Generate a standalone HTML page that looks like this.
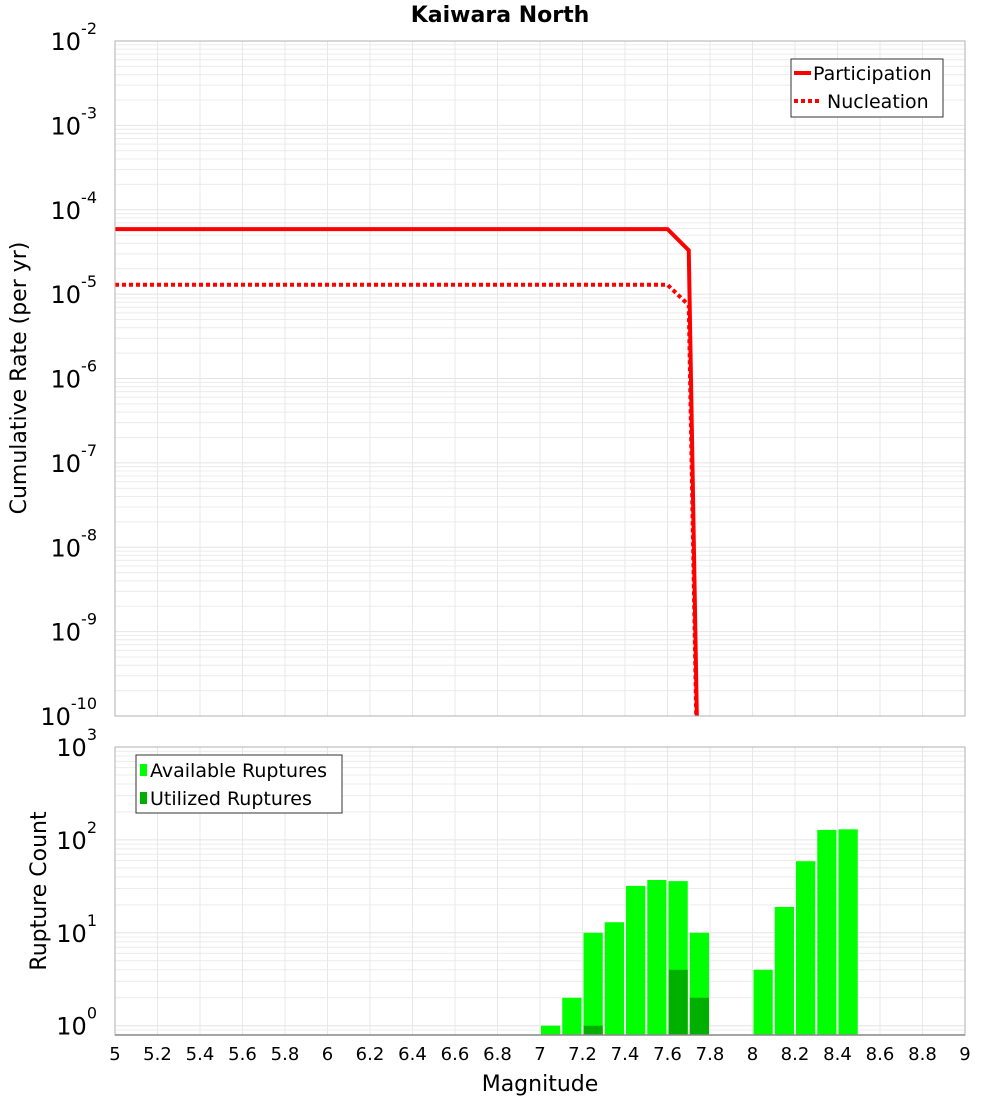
<!DOCTYPE html>
<html><head><meta charset="utf-8"><style>
html,body{margin:0;padding:0;background:#fff;}
svg{display:block;font-family:"DejaVu Sans","Liberation Sans",sans-serif;}
</style></head><body>
<svg id="chart" width="1000" height="1100" viewBox="0 0 1000 1100" xmlns="http://www.w3.org/2000/svg">
<text x="500" y="22" text-anchor="middle" font-size="22" font-weight="bold">Kaiwara North</text>
<g id="topPanel"></g><g id="botPanel"></g>
<text x="540" y="1091" text-anchor="middle" font-size="22">Magnitude</text>
<text transform="translate(26,378) rotate(-90)" text-anchor="middle" font-size="22">Cumulative Rate (per yr)</text>
<text transform="translate(46,891) rotate(-90)" text-anchor="middle" font-size="22">Rupture Count</text>
</svg>
<script>
const partMag=[5,7.6,7.7,7.8];
const partRate=[5.9e-5,5.9e-5,3.3e-5,1e-19];
const nuclMag=[5,7.6,7.7,7.8];
const nuclRate=[1.29e-5,1.29e-5,7.4e-6,1e-19];
const binStart=[7.0,7.1,7.2,7.3,7.4,7.5,7.6,7.7,8.0,8.1,8.2,8.3,8.4];
const available=[1,2,10,13,32,37,36,10,4,19,59,128,130];
const utilBin=[7.2,7.6,7.7];
const utilized=[1,4,2];
const xTicks=[5,5.2,5.4,5.6,5.8,6,6.2,6.4,6.6,6.8,7,7.2,7.4,7.6,7.8,8,8.2,8.4,8.6,8.8,9];
const xTickLabels=["5","5.2","5.4","5.6","5.8","6","6.2","6.4","6.6","6.8","7","7.2","7.4","7.6","7.8","8","8.2","8.4","8.6","8.8","9"];
const topExp=[-2,-3,-4,-5,-6,-7,-8,-9,-10];
const botExp=[3,2,1,0];

const NS="http://www.w3.org/2000/svg";
const L=115,R=965;
const X=m=>L+(m-5)/4*(R-L);
const T0=41,T1=716;
const Yt=v=>T0+(-2-Math.log10(v))/8*(T1-T0);
const B0=747,B1=1035,bMin=-0.1,bMax=3;
const Yb=v=>B0+(bMax-Math.log10(v))/(bMax-bMin)*(B1-B0);
function mk(tag,attrs,parent){const e=document.createElementNS(NS,tag);for(const k in attrs)e.setAttribute(k,attrs[k]);parent.appendChild(e);return e;}
const gTop=document.getElementById('topPanel'),gBot=document.getElementById('botPanel');

function grid(g,y0,y1,yfun,eLo,eHi,name){
  for(let e=eLo;e<eHi;e++)for(let k=1;k<10;k++){const y=yfun(k*Math.pow(10,e));if(y<y0-0.5||y>y1+0.5)continue;
    const ln=mk('line',{x1:L,x2:R,y1:y,y2:y,stroke:k==1?'#e4e4e4':'#ececec','stroke-width':1},g);
    }
  xTicks.forEach(m=>{const ln=mk('line',{x1:X(m),x2:X(m),y1:y0,y2:y1,stroke:'#e8e8e8','stroke-width':1},g);
    });
}
grid(gTop,T0,T1,Yt,-10,-2,'top');
grid(gBot,B0,B1,Yb,-1,3,'bottom');

topExp.forEach(e=>{const y=Yt(Math.pow(10,e));const t=mk('text',{x:97,y:y+9,'text-anchor':'end','font-size':24},gTop);
  
  t.textContent='10';const s=mk('tspan',{dy:-16,'font-size':16},t);s.textContent=String(e);});
botExp.forEach(e=>{const y=Yb(Math.pow(10,e));const t=mk('text',{x:97,y:y+9,'text-anchor':'end','font-size':24},gBot);
  
  t.textContent='10';const s=mk('tspan',{dy:-16,'font-size':16},t);s.textContent=String(e);});

const clip=mk('clipPath',{id:'tc'},gTop);mk('rect',{x:L,y:T0,width:R-L,height:T1-T0},clip);
function line(ms,vs,dash,name){const pts=ms.map((m,i)=>X(m)+','+Yt(vs[i])).join(' ');
  const p=mk('polyline',{points:pts,fill:'none',stroke:'#ff0000','stroke-width':4,'clip-path':'url(#tc)'},gTop);
  if(dash)p.setAttribute('stroke-dasharray','4,3');
  }
line(partMag,partRate,false,'participation-line');
line(nuclMag,nuclRate,true,'nucleation-line');
const f1=mk('rect',{x:L,y:T0,width:R-L,height:T1-T0,fill:'none',stroke:'#b0b0b0'},gTop);


const lg=mk('g',{},gTop);
mk('rect',{x:791,y:59,width:152,height:58,fill:'#fff',stroke:'#333'},lg);
mk('line',{x1:794,x2:811,y1:73,y2:73,stroke:'#f00','stroke-width':4},lg);
mk('line',{x1:794,x2:820,y1:101,y2:101,stroke:'#f00','stroke-width':4,'stroke-dasharray':'4,3'},lg);
let t=mk('text',{x:813,y:80,'font-size':19},lg);t.textContent='Participation';

t=mk('text',{x:827,y:108,'font-size':19},lg);t.textContent='Nucleation';


const bw=0.1;
binStart.forEach((m,i)=>{const y=Yb(available[i]);
  const r=mk('rect',{x:X(m)+1,y:y,width:X(m+bw)-X(m)-2,height:B1-y,fill:'#00ff00'},gBot);
  });
utilBin.forEach((m,i)=>{const y=Yb(utilized[i]);
  const r=mk('rect',{x:X(m)+1,y:y,width:X(m+bw)-X(m)-2,height:B1-y,fill:'#00b000'},gBot);
  });
const f2=mk('rect',{x:L,y:B0,width:R-L,height:B1-B0,fill:'none',stroke:'#b0b0b0'},gBot);

mk('line',{x1:L,x2:R,y1:B1,y2:B1,stroke:'#888','stroke-width':1.5},gBot);

xTicks.forEach((m,i)=>{const t=mk('text',{x:X(m),y:1060,'text-anchor':'middle','font-size':18},gBot);
  t.textContent=xTickLabels[i];});

const lg2=mk('g',{},gBot);
mk('rect',{x:136,y:755,width:206,height:58,fill:'#fff',stroke:'#333'},lg2);
mk('rect',{x:140,y:764,width:7,height:12,fill:'#00ff00'},lg2);
mk('rect',{x:140,y:792,width:7,height:12,fill:'#00b000'},lg2);
t=mk('text',{x:150,y:777,'font-size':19},lg2);t.textContent='Available Ruptures';

t=mk('text',{x:150,y:805,'font-size':19},lg2);t.textContent='Utilized Ruptures';

</script>
</body></html>
